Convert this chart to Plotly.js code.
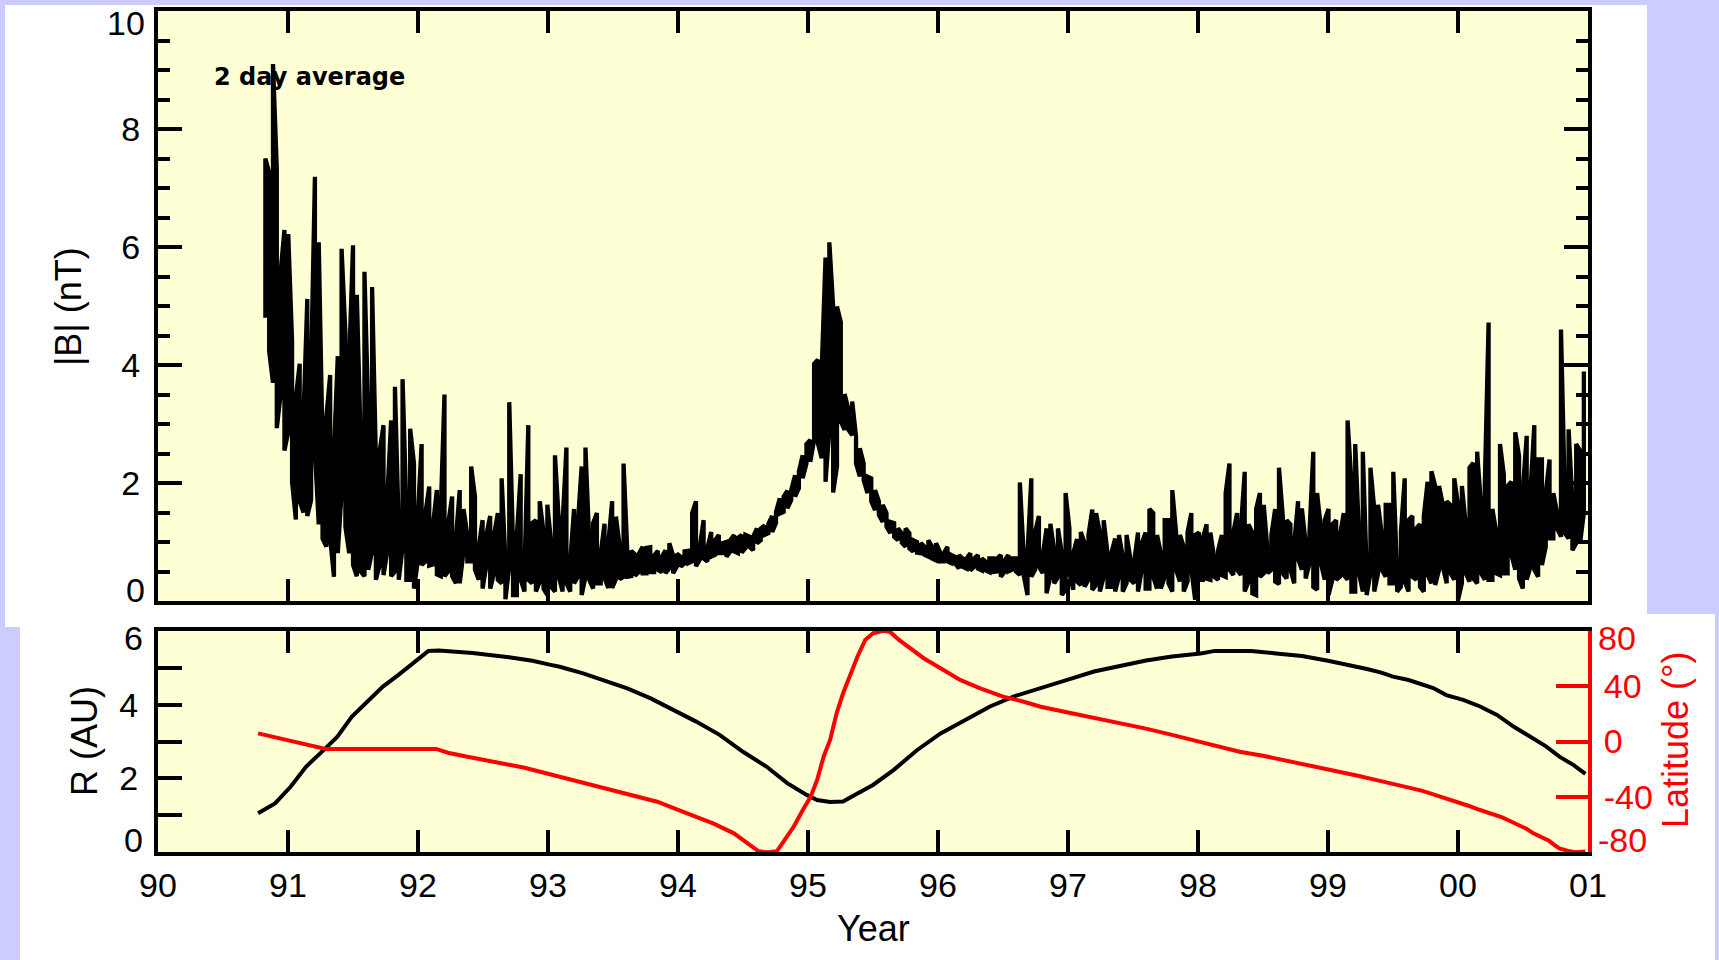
<!DOCTYPE html>
<html>
<head>
<meta charset="utf-8">
<script src="https://cdn.plot.ly/plotly-3.0.1.min.js"></script>
<style>html,body{margin:0;padding:0;background:#fff;}#chart{width:1719px;height:960px;}</style>
</head>
<body>
<div id="chart"></div>
<script>
// ---------------- data ----------------
const yearTicks = [90, 91, 92, 93, 94, 95, 96, 97, 98, 99, 100, 101];
const yearLabels = ['90', '91', '92', '93', '94', '95', '96', '97', '98', '99', '00', '01'];

// |B| 2-day averages: upper and lower extent per column
const bStart = 90.826;   // year of first column
const bEnd = 100.968;    // year of last column
const bHigh = [
  7.50,7.26,9.10,7.32,5.58,6.29,6.22,4.41,3.45,4.02,3.12,5.12,3.95,7.19,6.08,2.67,3.12,3.83,2.54,4.15,
  5.97,4.54,4.09,6.03,5.19,2.73,5.58,3.18,5.32,2.42,2.54,2.98,1.77,3.06,3.63,1.24,3.76,1.56,2.92,2.33,
  1.44,2.66,1.49,1.94,1.30,1.88,1.49,3.50,1.32,1.77,1.06,1.88,1.56,1.12,2.28,1.77,0.92,1.37,1.12,1.44,
  1.12,1.49,2.08,0.67,3.37,0.92,1.12,2.15,0.53,2.98,1.32,1.37,1.69,1.17,1.63,0.98,2.47,1.37,1.32,2.60,
  0.67,1.56,1.32,2.28,2.60,0.98,1.32,1.49,
  0.81,1.31,0.98,1.69,1.43,0.92,2.33,0.81,0.85,0.79,0.80,0.92,0.90,0.91,0.77,0.85,0.75,0.86,0.98,0.77,
  0.80,0.75,0.84,0.85,1.49,1.69,0.92,1.37,0.90,1.17,1.03,1.12,0.98,1.00,1.03,1.12,1.07,1.12,1.12,1.09,
  1.09,1.23,1.23,1.28,1.31,1.44,1.51,1.74,1.77,1.87,1.88,2.13,2.19,2.47,2.66,2.73,
  4.02,4.09,3.94,5.82,6.08,4.99,4.99,4.73,3.51,3.25,3.38,2.79,2.59,2.33,2.11,2.08,1.88,1.69,1.63,1.49,
  1.34,1.32,1.23,1.15,1.23,1.15,1.03,1.00,0.98,0.92,1.03,0.92,0.98,0.84,0.81,0.92,0.78,0.75,0.78,0.72,
  0.72,0.81,0.72,0.78,0.72,0.67,0.72,0.72,
  0.72,0.78,0.69,0.78,0.72,0.72,2.01,0.78,0.81,2.08,1.17,1.44,0.78,1.23,1.31,0.86,1.23,0.81,1.83,1.23,
  0.81,1.05,1.17,0.98,1.12,1.55,1.49,1.15,1.37,0.81,0.81,
  1.06,1.12,0.75,1.12,0.72,0.67,1.16,0.98,1.16,1.56,1.49,1.12,0.80,1.37,1.37,1.88,1.16,1.12,0.92,1.16,
  1.49,1.12,1.16,1.06,1.30,1.16,0.72,0.85,1.12,1.83,2.33,1.16,1.49,1.23,2.19,1.30,1.16,1.56,1.83,1.63,
  0.85,1.12,1.56,2.26,1.43,1.37,1.30,0.98,1.69,1.57,0.98,1.16,2.53,1.83,1.23,1.37,1.56,1.30,1.37,1.12,
  1.49,3.06,2.02,2.66,1.12,2.53,0.53,2.26,1.56,1.63,1.12,1.63,1.63,2.19,0.47,
  1.17,2.08,1.37,1.44,1.23,1.30,1.44,2.02,2.20,1.95,1.95,1.63,1.69,1.63,2.08,1.63,1.95,1.30,2.26,2.34,
  2.53,1.63,1.95,4.72,1.56,1.17,2.66,2.14,1.95,2.02,2.86,2.46,1.88,2.80,1.88,2.98,2.40,2.40,1.83,2.40,
  1.83,1.49,4.60,1.83,2.91,1.68,2.66,2.55,3.89
];
const bLow = [
  4.80,4.23,3.70,2.93,3.50,2.55,2.87,2.02,1.38,1.69,1.50,1.44,1.71,2.54,1.30,1.06,0.92,1.07,0.41,0.81,
  1.84,1.26,0.81,0.61,0.42,0.50,0.42,0.53,0.84,0.36,0.61,0.44,0.84,0.42,0.50,0.36,0.90,0.36,0.36,0.21,
  0.67,0.61,0.67,0.60,0.62,0.45,0.42,0.42,0.50,0.42,0.30,0.30,0.84,0.67,0.67,0.53,0.36,0.21,0.61,0.21,
  0.47,0.36,0.30,0.03,0.59,0.10,0.10,0.36,0.16,0.36,0.30,0.16,0.33,0.21,0.10,0.24,0.16,0.41,0.16,0.30,
  0.16,0.30,0.41,0.10,0.41,0.36,0.21,0.30,
  0.30,0.39,0.22,0.22,0.37,0.37,0.41,0.41,0.42,0.43,0.49,0.47,0.47,0.49,0.49,0.53,0.49,0.47,0.55,0.47,
  0.58,0.58,0.64,0.64,0.67,0.59,0.70,0.72,0.67,0.75,0.78,0.81,0.81,0.75,0.84,0.84,0.81,0.82,0.90,0.92,
  0.86,0.98,1.03,1.12,1.15,1.17,1.32,1.48,1.51,1.57,1.71,1.77,1.91,2.08,2.33,2.36,
  2.73,2.67,2.42,2.02,2.90,1.84,2.28,3.04,2.90,2.90,2.81,2.33,2.11,2.05,1.83,1.69,1.54,1.46,1.34,1.26,
  1.15,1.09,1.03,0.99,0.92,0.89,0.84,0.82,0.81,0.78,0.75,0.72,0.69,0.67,0.67,0.67,0.64,0.64,0.55,0.58,
  0.55,0.52,0.58,0.55,0.52,0.52,0.49,0.49,
  0.50,0.41,0.50,0.50,0.53,0.50,0.44,0.44,0.10,0.41,0.53,0.58,0.47,0.13,0.41,0.30,0.41,0.10,0.19,0.47,
  0.19,0.33,0.27,0.24,0.36,0.19,0.27,0.16,0.41,0.24,0.24,
  0.16,0.41,0.16,0.30,0.36,0.30,0.16,0.53,0.21,0.21,0.41,0.21,0.21,0.41,0.30,0.16,0.53,0.33,0.16,0.33,
  0.53,0.02,0.36,0.36,0.38,0.36,0.41,0.36,0.44,0.41,0.53,0.44,0.53,0.44,0.16,0.33,0.13,0.10,0.41,0.47,
  0.47,0.53,0.33,0.29,0.47,0.38,0.53,0.30,0.72,0.53,0.38,0.64,0.24,0.19,0.64,0.36,0.10,0.36,0.36,0.41,
  0.44,0.36,0.16,0.16,0.47,0.16,0.10,0.47,0.16,0.47,0.53,0.41,0.30,0.30,0.16,
  0.24,0.33,0.16,0.41,0.36,0.24,0.16,0.44,0.30,0.27,0.53,0.58,0.30,0.47,0.36,0.02,0.30,0.47,0.33,0.38,
  0.30,0.47,0.36,0.36,0.36,0.47,0.44,0.47,0.47,0.78,0.53,0.38,0.21,0.36,0.58,0.53,0.41,0.61,0.92,1.06,
  1.06,1.23,1.09,1.15,1.06,0.86,0.98,0.98,1.49
];

// Heliocentric distance R (AU)
const rYear = [90.77,90.90,91.02,91.14,91.29,91.38,91.49,91.61,91.73,91.85,91.96,92.08,92.16,92.42,92.70,92.88,
  93.02,93.09,93.27,93.45,93.61,93.79,93.96,94.14,94.32,94.50,94.68,94.84,94.99,95.07,95.17,95.27,95.38,95.50,
  95.66,95.84,96.02,96.20,96.40,96.58,96.79,97.00,97.20,97.40,97.60,97.80,98.02,98.13,98.41,98.60,98.80,99.00,
  99.17,99.30,99.41,99.50,99.62,99.69,99.81,99.91,100.04,100.17,100.30,100.43,100.55,100.68,100.78,100.89,100.98];
const rAU = [1.05,1.32,1.77,2.32,2.82,3.13,3.67,4.08,4.49,4.81,5.12,5.46,5.47,5.40,5.29,5.19,
  5.08,5.03,4.85,4.62,4.44,4.17,3.86,3.54,3.18,2.72,2.32,1.87,1.55,1.41,1.36,1.37,1.59,1.82,
  2.23,2.77,3.22,3.58,3.95,4.22,4.44,4.68,4.90,5.06,5.20,5.31,5.39,5.46,5.46,5.39,5.32,5.19,
  5.08,4.97,4.87,4.76,4.67,4.58,4.45,4.26,4.13,3.95,3.72,3.40,3.13,2.86,2.59,2.36,2.12];

// Heliographic latitude (deg)
const latYear = [90.77,90.90,91.02,91.14,91.29,92.14,92.23,92.38,92.53,92.67,92.82,92.94,93.14,93.38,93.61,93.84,
  94.07,94.27,94.43,94.55,94.62,94.69,94.76,94.81,94.89,94.96,95.02,95.07,95.12,95.17,95.22,95.27,95.32,95.38,
  95.44,95.50,95.58,95.63,95.70,95.79,95.89,96.02,96.17,96.32,96.50,96.66,96.79,97.00,97.20,97.40,97.60,97.80,
  98.02,98.17,98.32,98.50,98.66,98.80,98.95,99.09,99.23,99.35,99.46,99.61,99.72,99.81,99.91,99.99,100.08,100.17,
  100.25,100.34,100.40,100.47,100.53,100.58,100.63,100.70,100.75,100.78,100.84,100.90,100.98];
const latDeg = [5.9,3.0,0.0,-2.0,-5.4,-5.4,-8.1,-11.0,-13.4,-16.3,-19.0,-21.9,-26.7,-32.7,-37.6,-43.6,
  -52.0,-59.3,-66.5,-74.8,-79.5,-80.2,-79.5,-72.6,-61.7,-49.6,-40.0,-27.9,-11.0,1.1,20.4,34.9,47.0,61.4,
  73.5,78.4,80.2,79.5,73.5,67.5,60.3,53.0,44.6,38.6,32.5,28.8,25.2,21.0,17.3,13.5,9.3,4.8,
  -0.1,-3.7,-7.4,-10.3,-13.4,-15.8,-19.0,-21.9,-24.8,-27.4,-29.9,-32.7,-35.6,-38.3,-41.2,-43.6,-46.5,-49.6,
  -52.0,-54.9,-57.6,-60.5,-63.4,-66.5,-69.0,-71.9,-75.5,-77.4,-79.0,-80.2,-79.6];

// ---------------- build traces ----------------
const nCol = bHigh.length;
const bStep = (bEnd - bStart) / (nCol - 1);
const bx = [], by = [];
for (let i = 0; i < nCol; i++) {
  const t = bStart + i * bStep;
  bx.push(t, t);
  if (i % 2 === 0) by.push(bLow[i], bHigh[i]); else by.push(bHigh[i], bLow[i]);
}

const traces = [
  {x: bx, y: by, xaxis: 'x', yaxis: 'y', mode: 'lines', line: {color: '#000', width: 4.3, simplify: false}, hoverinfo: 'skip'},
  {x: rYear, y: rAU, xaxis: 'x2', yaxis: 'y2', mode: 'lines', line: {color: '#000', width: 4}, hoverinfo: 'skip'},
  {x: latYear, y: latDeg, xaxis: 'x2', yaxis: 'y3', mode: 'lines', line: {color: '#ff0000', width: 4}, hoverinfo: 'skip'}
];

// ---------------- layout ----------------
const W = 1719, H = 960;
const PL = 158, PR = 1588, PT = 11, PB = 852;
const px = v => (v - PL) / (PR - PL);
const py = v => (PB - v) / (PB - PT);
const lav = '#ccccff';
const tickFont = {family: 'Liberation Sans, Arial, sans-serif', size: 34, color: '#000'};
const redFont = {family: 'Liberation Sans, Arial, sans-serif', size: 34, color: '#ff0000'};
const titleFont = {family: 'Liberation Sans, Arial, sans-serif', size: 36, color: '#000'};

function rect(x0, y0, x1, y1) {
  return {type: 'rect', xref: 'paper', yref: 'paper', x0: px(x0), x1: px(x1), y0: py(y1), y1: py(y0),
    fillcolor: lav, line: {width: 0}, layer: 'below'};
}
function ann(text, x, y, opts) {
  return Object.assign({text: text, xref: 'paper', yref: 'paper', x: px(x), y: py(y), showarrow: false,
    xanchor: 'center', yanchor: 'middle', font: tickFont, borderpad: 0}, opts || {});
}

const axBase = {showgrid: false, zeroline: false, showline: true, linewidth: 4, linecolor: '#000',
  ticks: 'inside', tickwidth: 4, tickcolor: '#000', fixedrange: true};

const layout = {
  width: W, height: H,
  margin: {l: PL, r: W - PR, t: PT, b: H - PB, pad: 0},
  paper_bgcolor: '#ffffff', plot_bgcolor: '#ffffd6',
  showlegend: false,
  xaxis: Object.assign({}, axBase, {domain: [0, 1], anchor: 'y', range: [90, 101], tickvals: yearTicks,
    ticklen: 22, showticklabels: false, mirror: 'ticks'}),
  yaxis: Object.assign({}, axBase, {domain: [py(601), 1], anchor: 'x', range: [0, 10],
    tickvals: [0, 2, 4, 6, 8, 10], ticktext: ['', '2', '4', '6', '8', ''], ticklen: 24, mirror: 'ticks',
    tickfont: tickFont, ticklabelstandoff: 7,
    minor: {dtick: 0.5, tick0: 0, ticks: 'inside', ticklen: 12, tickwidth: 4, tickcolor: '#000', showgrid: false}}),
  xaxis2: Object.assign({}, axBase, {domain: [0, 1], anchor: 'y2', range: [90, 101], tickvals: yearTicks,
    ticktext: yearLabels, ticklen: 22, mirror: 'ticks', tickfont: tickFont, ticklabelstandoff: 0}),
  yaxis2: Object.assign({}, axBase, {domain: [0, py(631)], anchor: 'x2', range: [0, 6],
    tickvals: [0, 1, 2, 3, 4, 5, 6], ticktext: ['', '', '2', '', '4', '', ''], ticklen: 24,
    tickfont: tickFont, ticklabelstandoff: 9}),
  yaxis3: Object.assign({}, axBase, {overlaying: 'y2', side: 'right', anchor: 'x2', range: [-80, 80],
    tickvals: [-80, -40, 0, 40, 80], ticktext: ['', '-40', '0', '40', ''], ticklen: 32,
    linecolor: '#ff0000', tickcolor: '#ff0000', tickfont: redFont, ticklabelstandoff: 5}),
  shapes: [
    rect(0, 0, W, 5),
    rect(0, 0, 5, 627),
    rect(0, 627, 20, H),
    rect(1647, 0, W, 614),
    rect(1715, 614, W, H)
  ],
  annotations: [
    ann('<b>2 day average</b>', 213, 77, {xanchor: 'left', font: {family: 'DejaVu Sans, sans-serif', size: 24, color: '#000'}}),
    ann('|B| (nT)', 68, 306, {textangle: -90, font: titleFont}),
    ann('R (AU)', 84, 741, {textangle: -90, font: titleFont}),
    ann('Latitude (°)', 1675, 740, {textangle: -90, font: Object.assign({}, titleFont, {color: '#ff0000'})}),
    ann('Year', 873, 928, {font: titleFont}),
    ann('10', 146, 23, {xanchor: 'right'}),
    ann('0', 146, 590, {xanchor: 'right'}),
    ann('6', 144, 638, {xanchor: 'right'}),
    ann('0', 144, 840, {xanchor: 'right'}),
    ann('80', 1597, 638, {xanchor: 'left', font: redFont}),
    ann('-80', 1597, 840, {xanchor: 'left', font: redFont})
  ]
};

Plotly.newPlot('chart', traces, layout, {displayModeBar: false, staticPlot: true});
</script>
</body>
</html>
